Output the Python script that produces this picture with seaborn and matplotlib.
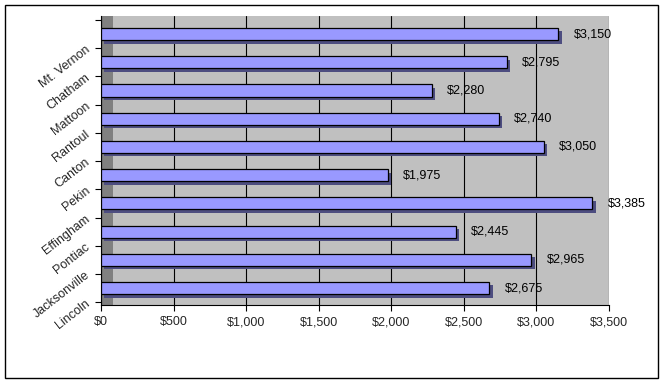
import matplotlib
matplotlib.use("Agg")
import matplotlib.pyplot as plt
import matplotlib.patheffects as pe
from matplotlib.patches import Rectangle
import seaborn as sns
import pandas as pd

# data, top bar first
towns = ["Mt. Vernon", "Chatham", "Mattoon", "Rantoul", "Canton",
         "Pekin", "Effingham", "Pontiac", "Jacksonville", "Lincoln"]
amounts = [3150, 2795, 2280, 2740, 3050, 1975, 3385, 2445, 2965, 2675]
x_ticks = [0, 500, 1000, 1500, 2000, 2500, 3000, 3500]

df = pd.DataFrame({"town": towns, "amount": amounts})

sns.set_style("white")
plt.rcParams["font.family"] = ["Liberation Sans", "DejaVu Sans"]

W, H = 667, 384
fig = plt.figure(figsize=(W / 100, H / 100), dpi=100)
ax = fig.add_axes([101 / W, 1 - 305 / H, 508 / W, 289 / H])
ax.set_facecolor("#C0C0C0")

# dark left side wall of the 3d box
ax.add_patch(Rectangle((0, 0), 12 / 508, 1, transform=ax.transAxes,
                       facecolor="#808080", edgecolor="none", zorder=0.5))

sns.barplot(data=df, y="town", x="amount", orient="h", ax=ax,
            color="#9999FF", saturation=1, width=0.43,
            edgecolor="black", linewidth=0.9, zorder=3)
for bar in ax.patches[1:]:
    bar.set_path_effects([pe.SimplePatchShadow(offset=(2.5, -2.5),
                                               shadow_rgbFace="#4D4D80",
                                               alpha=1), pe.Normal()])

ax.bar_label(ax.containers[0], labels=[f"${v:,}" for v in amounts],
             padding=11, fontsize=9, color="black")

ax.set_xlim(0, 3500)
ax.set_ylim(9.6, -0.64)
ax.set_xticks(x_ticks)
ax.set_xticklabels([f"${v:,}" for v in x_ticks], fontsize=9)
ax.xaxis.grid(True, color="black", linewidth=0.8, zorder=1)
ax.set_axisbelow(True)

# category names sit at the boundary below each bar, like the original
ax.set_yticks([i + 0.5 for i in range(len(towns))])
ax.set_yticklabels(towns, fontsize=9, rotation=38, ha="right", va="center",
                   rotation_mode="anchor")
ax.set_yticks([-0.5], minor=True)
ax.tick_params(axis="y", which="both", length=4, width=0.8, color="black",
               left=True, pad=5)
ax.tick_params(axis="x", length=4, width=0.8, color="black", bottom=True,
               pad=4)

ax.set_xlabel("")
ax.set_ylabel("")
for side in ["top", "right"]:
    ax.spines[side].set_visible(False)
ax.spines["left"].set_color("black")
ax.spines["bottom"].set_color("black")
ax.spines["left"].set_linewidth(0.8)
ax.spines["bottom"].set_linewidth(0.8)

# chart area border
fig.patches.append(Rectangle((5 / W, 1 - 378 / H), 653 / W, 373 / H,
                             transform=fig.transFigure, fill=False,
                             edgecolor="black", linewidth=1))

fig.savefig("out.png", dpi=100)
